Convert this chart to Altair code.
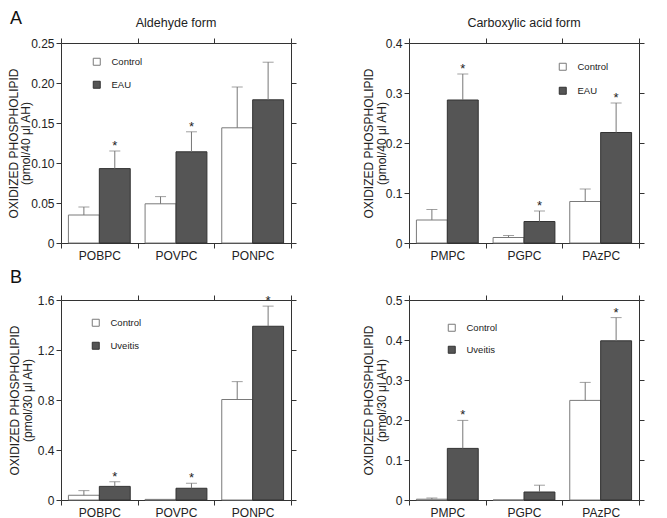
import altair as alt
import pandas as pd

FONT = "Liberation Sans"
PANEL_W = 230
PANEL_H = 200

# ---- Panel A, aldehyde form ----
a1_cats = ["POBPC", "POVPC", "PONPC"]
a1_groups = ["Control", "EAU"]
a1_ctrl = [0.035, 0.049, 0.144]
a1_ctrl_err = [0.045, 0.058, 0.195]
a1_trt = [0.093, 0.114, 0.179]
a1_trt_err = [0.115, 0.139, 0.226]
a1_sig = ["*", "*", ""]

# ---- Panel A, carboxylic acid form ----
a2_cats = ["PMPC", "PGPC", "PAzPC"]
a2_groups = ["Control", "EAU"]
a2_ctrl = [0.046, 0.011, 0.083]
a2_ctrl_err = [0.067, 0.015, 0.108]
a2_trt = [0.286, 0.043, 0.221]
a2_trt_err = [0.338, 0.064, 0.280]
a2_sig = ["*", "*", "*"]

# ---- Panel B, aldehyde form ----
b1_cats = ["POBPC", "POVPC", "PONPC"]
b1_groups = ["Control", "Uveitis"]
b1_ctrl = [0.038, 0.005, 0.804]
b1_ctrl_err = [0.075, 0.005, 0.947]
b1_trt = [0.109, 0.094, 1.390]
b1_trt_err = [0.146, 0.134, 1.551]
b1_sig = ["*", "*", "*"]

# ---- Panel B, carboxylic acid form ----
b2_cats = ["PMPC", "PGPC", "PAzPC"]
b2_groups = ["Control", "Uveitis"]
b2_ctrl = [0.002, 0.0, 0.249]
b2_ctrl_err = [0.005, 0.0, 0.294]
b2_trt = [0.129, 0.020, 0.398]
b2_trt_err = [0.199, 0.037, 0.456]
b2_sig = ["*", "", "*"]

y_ticks_a1 = [0, 0.05, 0.10, 0.15, 0.20, 0.25]
y_ticks_a2 = [0, 0.1, 0.2, 0.3, 0.4]
y_ticks_b1 = [0, 0.4, 0.8, 1.2, 1.6]
y_ticks_b2 = [0, 0.1, 0.2, 0.3, 0.4, 0.5]


def make_df(cats, groups, ctrl, ctrl_err, trt, trt_err, sig):
    rows = []
    for i, c in enumerate(cats):
        rows.append(dict(cat=c, group=groups[0], value=ctrl[i], err=ctrl_err[i], sig=""))
        rows.append(dict(cat=c, group=groups[1], value=trt[i], err=trt_err[i], sig=sig[i]))
    return pd.DataFrame(rows)


def panel(df, cats, groups, ticks, fmt, ytitle, title_pad, leg_x, leg_y, leg_row,
          title=None, letter=None, letter_y=-19):
    xs = alt.Scale(domain=cats, paddingInner=0, paddingOuter=0)
    offs = alt.Scale(domain=groups, paddingInner=0, paddingOuter=0.24)
    ys = alt.Scale(domain=[ticks[0], ticks[-1]], nice=False, zero=True)
    lab = f"datum.value == 0 ? '0' : format(datum.value, '{fmt}')"

    ax_common = dict(domainColor="#333", tickColor="#333", tickSize=5, grid=False)
    x_bottom = alt.X("cat:N", scale=xs, sort=cats,
                     axis=alt.Axis(orient="bottom", title=None, labelAngle=0, tickBand="extent",
                                   labelFontSize=12, labelFont=FONT, labelColor="#222",
                                   labelPadding=2, **ax_common))
    x_top = alt.X("cat:N", scale=xs, sort=cats,
                  axis=alt.Axis(orient="top", title=None, labels=False, tickBand="extent", **ax_common))
    x_none = alt.X("cat:N", scale=xs, sort=cats, axis=None)
    off = alt.XOffset("group:N", scale=offs, sort=groups)

    y_left = alt.Y("value:Q", scale=ys,
                   axis=alt.Axis(orient="left", values=ticks, labelExpr=lab, title=ytitle,
                                 labelFontSize=12, labelFont=FONT, labelColor="#222", labelPadding=2,
                                 titleFont=FONT, titleFontSize=12, titleFontWeight="normal",
                                 titleColor="#222", titlePadding=title_pad, titleLineHeight=12.5,
                                 **ax_common))
    y_right = alt.Y("value:Q", scale=ys,
                    axis=alt.Axis(orient="right", values=ticks, labels=False, title=None, **ax_common))

    base = alt.Chart(df)
    bars = base.mark_bar(strokeWidth=1).encode(
        x=x_bottom, xOffset=off, y=y_left,
        fill=alt.Fill("group:N", sort=groups,
                      scale=alt.Scale(domain=groups, range=["#ffffff", "#555555"]),
                      legend=alt.Legend(title=None, orient="none", legendX=leg_x, legendY=leg_y,
                                        symbolType="square", symbolSize=49, symbolStrokeColor="#333",
                                        symbolStrokeWidth=1, labelFontSize=9.5, labelFont=FONT,
                                        labelColor="#222", labelOffset=10, rowPadding=leg_row,
                                        padding=0)),
        stroke=alt.Stroke("group:N", sort=groups,
                          scale=alt.Scale(domain=groups, range=["#7a7a7a", "#333333"]),
                          legend=None),
    )
    eb = base.transform_filter("datum.err > datum.value")
    rule = eb.mark_rule(color="#777", strokeWidth=1).encode(
        x=x_top, xOffset=off, y=y_right, y2="err:Q")
    cap = eb.mark_tick(color="#777", size=11, thickness=1, orient="horizontal").encode(
        x=x_none, xOffset=off, y=alt.Y("err:Q", scale=ys, axis=None))
    star = base.transform_filter("datum.sig != ''").mark_text(
        fontSize=13, font=FONT, color="#222", baseline="alphabetic", dy=-1).encode(
        x=x_none, xOffset=off, y=alt.Y("err:Q", scale=ys, axis=None), text="sig:N")
    layers = [bars, rule, cap, star]
    if title is not None:
        tt = alt.Chart(pd.DataFrame({"t": [title]})).mark_text(
            fontSize=12.5, font=FONT, color="#222", align="center", baseline="alphabetic").encode(
            text="t:N", x=alt.value(PANEL_W / 2), y=alt.value(-16))
        layers.append(tt)
    if letter is not None:
        lt = alt.Chart(pd.DataFrame({"t": [letter]})).mark_text(
            fontSize=18, font=FONT, color="#111", align="left", baseline="alphabetic").encode(
            text="t:N", x=alt.value(-51), y=alt.value(letter_y))
        layers.append(lt)
    return alt.layer(*layers).resolve_axis(x="independent", y="independent").properties(
        width=PANEL_W, height=PANEL_H)


ytitle40 = ["OXIDIZED PHOSPHOLIPID", "(pmol/40 \u03bcl AH)"]
ytitle30 = ["OXIDIZED PHOSPHOLIPID", "(pmol/30 \u03bcl AH)"]

p1 = panel(make_df(a1_cats, a1_groups, a1_ctrl, a1_ctrl_err, a1_trt, a1_trt_err, a1_sig),
           a1_cats, a1_groups, y_ticks_a1, ".2f", ytitle40, -2, 31, 14, 11,
           title="Aldehyde form", letter="A", letter_y=-19)
p2 = panel(make_df(a2_cats, a2_groups, a2_ctrl, a2_ctrl_err, a2_trt, a2_trt_err, a2_sig),
           a2_cats, a2_groups, y_ticks_a2, ".1f", ytitle40, -3, 149, 19, 12,
           title="Carboxylic acid form")
p3 = panel(make_df(b1_cats, b1_groups, b1_ctrl, b1_ctrl_err, b1_trt, b1_trt_err, b1_sig),
           b1_cats, b1_groups, y_ticks_b1, ".1f", ytitle30, 3, 30, 18, 11,
           letter="B", letter_y=-17)
p4 = panel(make_df(b2_cats, b2_groups, b2_ctrl, b2_ctrl_err, b2_trt, b2_trt_err, b2_sig),
           b2_cats, b2_groups, y_ticks_b2, ".1f", ytitle30, -3, 38, 23, 10)

chart = alt.concat(p1, p2, p3, p4, columns=2, spacing={"row": 57, "column": 118}, bounds="flush"
                   ).resolve_scale(fill="independent", stroke="independent", xOffset="independent"
                   ).resolve_legend(fill="independent", stroke="independent"
                   ).configure_view(stroke=None).properties(
    padding={"left": -1, "top": 2, "right": 5, "bottom": 5})

chart.save("out.html", embed_options={"renderer": "svg", "actions": False})
